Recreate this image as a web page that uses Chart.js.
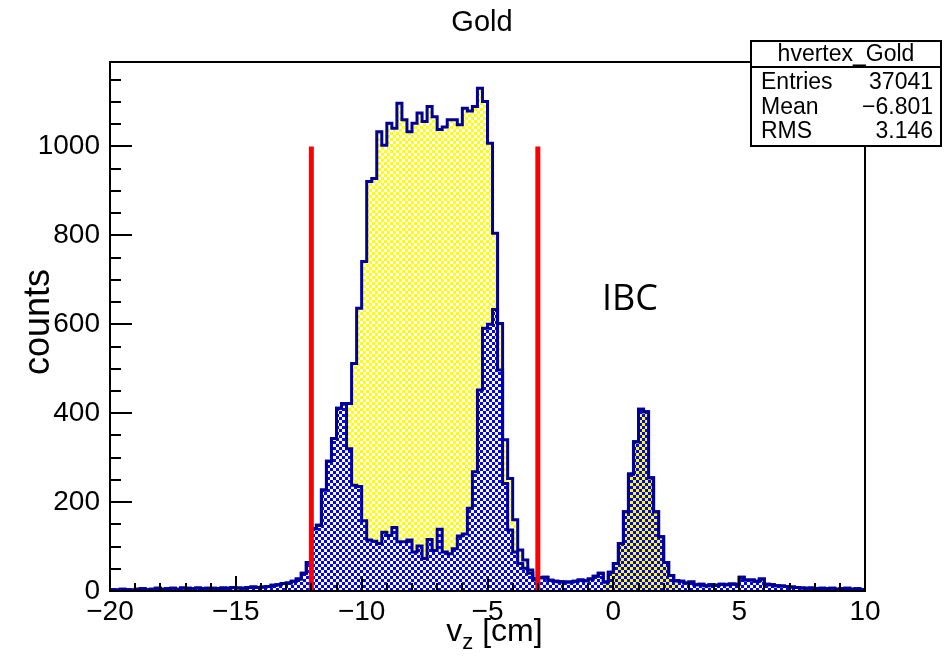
<!DOCTYPE html>
<html>
<head>
<meta charset="utf-8">
<script src="https://cdn.jsdelivr.net/npm/chart.js@4.4.1/dist/chart.umd.min.js"></script>
<style>
  html, body { margin: 0; padding: 0; background: #fff; }
  #c { display: block; }
</style>
</head>
<body>
<canvas id="c" width="951" height="656"></canvas>
<script>
// binning of hvertex_Gold: 150 bins from -20 to 10 cm
const binLow = -20;
const binWidth = 0.2;

// all vertices (yellow)
const yellowCounts = [
  3, 2, 4, 3, 2, 4, 5, 3, 4, 6,
  4, 5, 6, 4, 7, 6, 5, 7, 5, 6,
  6, 5, 7, 6, 8, 7, 6, 8, 9, 8,
  9, 10, 13, 14, 17, 18, 22, 27, 40, 64,
  140, 148, 227, 292, 343, 411, 422, 422, 512, 636,
  741, 921, 928, 1033, 1003, 1052, 1041, 1097, 1060, 1033,
  1052, 1075, 1056, 1090, 1067, 1038, 1044, 1060, 1060, 1049,
  1086, 1080, 1090, 1131, 1101, 1007, 805, 602, 340, 253,
  160, 92, 70, 47, 28, 30, 31, 24, 22, 21,
  20, 20, 22, 25, 23, 27, 33, 40, 20, 42,
  62, 107, 178, 263, 336, 409, 403, 255, 178, 122,
  64, 35, 23, 22, 18, 20, 14, 15, 12, 14,
  13, 15, 14, 16, 15, 31, 25, 25, 22, 27,
  15, 14, 12, 11, 10, 9, 8, 7, 6, 7,
  5, 6, 5, 6, 4, 5, 6, 4, 5, 3
];

// selected vertices (blue)
const blueCounts = [
  3, 2, 4, 3, 2, 4, 5, 3, 4, 6,
  4, 5, 6, 4, 7, 6, 5, 7, 5, 6,
  6, 5, 7, 6, 8, 7, 6, 8, 9, 8,
  9, 10, 13, 14, 17, 18, 22, 27, 40, 64,
  140, 148, 227, 292, 343, 411, 420, 320, 238, 235,
  158, 115, 112, 107, 132, 125, 143, 111, 111, 115,
  88, 101, 73, 116, 91, 139, 88, 84, 95, 124,
  128, 186, 268, 452, 591, 600, 633, 497, 242, 137,
  88, 62, 51, 40, 25, 30, 31, 24, 22, 21,
  20, 20, 22, 25, 23, 27, 33, 40, 20, 42,
  62, 107, 178, 263, 336, 409, 403, 255, 178, 122,
  64, 35, 23, 22, 18, 20, 14, 15, 12, 14,
  13, 15, 14, 16, 15, 31, 25, 25, 22, 27,
  15, 14, 12, 11, 10, 9, 8, 7, 6, 7,
  5, 6, 5, 6, 4, 5, 6, 4, 5, 3
];

const cutPositions = [-12, -3];
const cutHeight = 1000;
const ibcRange = [-0.4, 2.6];

const xTicks = [-20, -15, -10, -5, 0, 5, 10];
const xTickLabels = ["\u221220", "\u221215", "\u221210", "\u22125", "0", "5", "10"];
const yTicks = [0, 200, 400, 600, 800, 1000];
const yTickLabels = ["0", "200", "400", "600", "800", "1000"];
const xMinorStep = 1;
const yMinorStep = 50;

const statsTitle = "hvertex_Gold";
const statsNames = ["Entries", "Mean", "RMS"];
const statsValues = ["37041", "\u22126.801", "3.146"];

const FONT = "'Liberation Sans', Arial, Helvetica, sans-serif";
const canvas = document.getElementById("c");
const ctx = canvas.getContext("2d");

function checker(color, shift) {
  const t = document.createElement("canvas");
  t.width = 6;
  t.height = 6;
  const g = t.getContext("2d");
  g.fillStyle = color;
  g.fillRect(shift, 0, 3, 3);
  g.fillRect(3 - shift, 3, 3, 3);
  return ctx.createPattern(t, "repeat");
}
const yellowFill = checker("#ffff00", 0);
const yellowFillAlt = checker("#ffff00", 3);
const blueFill = checker("#0000ff", 0);

function histPoints(counts) {
  const pts = counts.map((v, i) => ({ x: binLow + i * binWidth, y: v }));
  pts.push({ x: binLow + counts.length * binWidth, y: counts[counts.length - 1] });
  return pts;
}

const rootStyle = {
  id: "rootStyle",
  afterDatasetsDraw(chart) {
    const { ctx, chartArea: a, scales: { x, y } } = chart;
    ctx.save();
    ctx.strokeStyle = "#000";
    ctx.lineWidth = 2;
    ctx.beginPath();
    for (let v = x.min; v <= x.max + 1e-9; v += xMinorStep) {
      const px = Math.round(x.getPixelForValue(v));
      const len = xTicks.includes(v) ? 15 : 8;
      ctx.moveTo(px, a.bottom);
      ctx.lineTo(px, a.bottom - len);
    }
    for (let v = 0; v <= y.max; v += yMinorStep) {
      const py = Math.round(y.getPixelForValue(v));
      const len = yTicks.includes(v) ? 22 : 11;
      ctx.moveTo(a.left, py);
      ctx.lineTo(a.left + len, py);
    }
    ctx.stroke();
    ctx.strokeRect(a.left, a.top, a.right - a.left, a.bottom - a.top);
    ctx.restore();
  },
  afterDraw(chart) {
    const { ctx, chartArea: a } = chart;
    ctx.save();
    ctx.fillStyle = "#000";

    // title
    ctx.font = "29px " + FONT;
    ctx.textAlign = "center";
    ctx.textBaseline = "alphabetic";
    ctx.fillText("Gold", 482, 31);

    // y title
    ctx.save();
    ctx.translate(49, 322);
    ctx.rotate(-Math.PI / 2);
    ctx.font = "36px " + FONT;
    ctx.fillText("counts", 0, 0);
    ctx.restore();

    // x title with subscript
    ctx.font = "32px " + FONT;
    ctx.textAlign = "left";
    const w1 = ctx.measureText("v").width;
    ctx.font = "22px " + FONT;
    const w2 = ctx.measureText("z").width;
    ctx.font = "32px " + FONT;
    const w3 = ctx.measureText(" [cm]").width;
    let sx = (a.left + a.right) / 2 + 7 - (w1 + w2 + w3) / 2;
    ctx.fillText("v", sx, 641);
    ctx.font = "22px " + FONT;
    ctx.fillText("z", sx + w1, 649);
    ctx.font = "32px " + FONT;
    ctx.fillText(" [cm]", sx + w1 + w2, 641);

    // label
    ctx.font = "36px 'Open Sans', sans-serif";
    ctx.fillText("IBC", 602, 310);

    // stats box
    const bx0 = 751, by0 = 41, bx1 = 941, by1 = 146, hy = 67;
    ctx.fillStyle = "#fff";
    ctx.fillRect(bx0, by0, bx1 - bx0, by1 - by0);
    ctx.strokeStyle = "#000";
    ctx.lineWidth = 2;
    ctx.strokeRect(bx0, by0, bx1 - bx0, by1 - by0);
    ctx.beginPath();
    ctx.moveTo(bx0, hy);
    ctx.lineTo(bx1, hy);
    ctx.stroke();
    ctx.fillStyle = "#000";
    ctx.font = "23px " + FONT;
    ctx.textAlign = "center";
    ctx.fillText(statsTitle, (bx0 + bx1) / 2, 61);
    const rowY = [89, 114, 138];
    statsNames.forEach((n, i) => {
      ctx.textAlign = "left";
      ctx.fillText(n, 761, rowY[i]);
      ctx.textAlign = "right";
      ctx.fillText(statsValues[i], 933, rowY[i]);
    });
    ctx.restore();
  }
};

new Chart(ctx, {
  type: "line",
  data: {
    datasets: [
      ...cutPositions.map(c => ({
        label: "cut " + c,
        data: [{ x: c, y: 0 }, { x: c, y: cutHeight }],
        borderColor: "#ff0000",
        borderWidth: 5,
        pointRadius: 0,
        fill: false,
        order: 0
      })),
      {
        label: "selected",
        data: histPoints(blueCounts),
        stepped: "before",
        fill: "origin",
        backgroundColor: blueFill,
        borderColor: "#000099",
        borderWidth: 3,
        pointRadius: 0,
        order: 1
      },
      {
        label: "hvertex_Gold",
        data: histPoints(yellowCounts),
        stepped: "before",
        fill: "origin",
        backgroundColor: yellowFill,
        borderColor: "#000099",
        borderWidth: 3,
        pointRadius: 0,
        order: 2,
        segment: {
          backgroundColor: c => (c.p0.parsed.x >= ibcRange[0] - 1e-6 && c.p0.parsed.x < ibcRange[1]) ? yellowFillAlt : undefined
        }
      }
    ]
  },
  options: {
    responsive: false,
    animation: false,
    events: [],
    layout: { padding: { left: 0, right: 86, top: 62, bottom: 0 } },
    plugins: {
      legend: { display: false },
      title: { display: false },
      tooltip: { enabled: false }
    },
    scales: {
      x: {
        type: "linear",
        min: -20,
        max: 10,
        afterFit: s => { s.height = 65; },
        afterBuildTicks: s => { s.ticks = xTicks.map(v => ({ value: v })); },
        grid: { display: false, drawTicks: false },
        border: { display: false },
        ticks: {
          autoSkip: false,
          maxRotation: 0,
          padding: 4,
          color: "#000",
          font: { family: FONT, size: 28 },
          callback: (v, i) => xTickLabels[i]
        }
      },
      y: {
        min: 0,
        max: 1190,
        afterFit: s => { s.width = 110; },
        afterBuildTicks: s => { s.ticks = yTicks.map(v => ({ value: v })); },
        grid: { display: false, drawTicks: false },
        border: { display: false },
        ticks: {
          padding: 10,
          color: "#000",
          font: { family: FONT, size: 28 },
          callback: (v, i) => yTickLabels[i]
        }
      }
    }
  },
  plugins: [rootStyle]
});
</script>
</body>
</html>
